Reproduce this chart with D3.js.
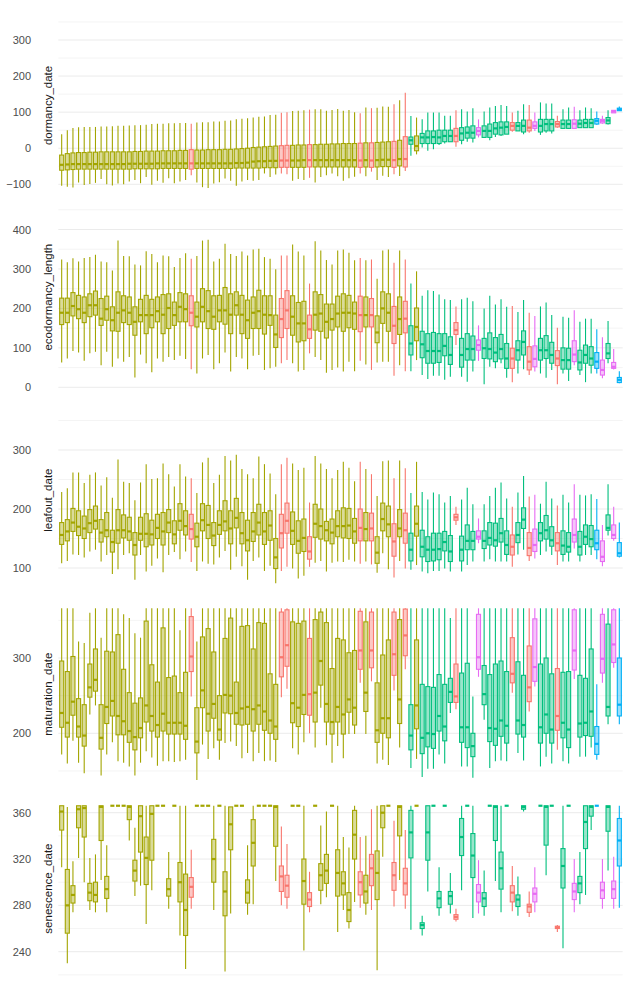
<!DOCTYPE html>
<html lang="en">
<head>
    <meta charset="UTF-8">
    <title>Phenology box plots</title>
    <script src="https://d3js.org/d3.v7.min.js"></script>
    <style>
        body { margin: 0; background: #fff; }
        .tick text { font: 11px "Liberation Sans", Arial, sans-serif; fill: #4d4d4d; }
        .ytitle { font: 11.5px "Liberation Sans", Arial, sans-serif; fill: #1a1a1a; }
        .grid-major { stroke: #ebebeb; stroke-width: 1; }
        .grid-minor { stroke: #ebebeb; stroke-width: 0.55; }
    </style>
</head>
<body>
    <div id="chart"></div>

    <script>
        // sites along x (sorted by dormancy median in the source), 100 of them
        const sites = d3.range(1, 101).map(i => "site" + i);

        // colour group of each site
        const groups = ("OOOOOOOOOOOOOOOOOOOOOOO" + "R" + "OOOOOOOOOOOOOOO" + "RR" + "OOO" + "R" +
            "OOOOOOOO" + "R" + "O" + "R" + "OOO" + "R" + "O" + "R" + "G" + "O" + "GGGGGG" + "R" +
            "GGG" + "M" + "GGGGG" + "R" + "GG" + "R" + "M" + "GGG" + "R" + "GG" + "M" + "GGG" +
            "B" + "M" + "G" + "M" + "B").split("");

        // dormancy_date
        const dormLo = [-104,-107,-109,-95,-102,-99,-96,-85,-100,-103,-98,-100,-92,-88,-97,-80,-101,-90,-96,-83,-97,-92,-88,
            -75,-95,-108,-110,-98,-94,-84,-90,-104,-92,-88,
            -90,-88,-70,-80,-73,-70,-72,-90,-85,-88,-82,-95,-80,-75,-70,-78,-90,-83,-79,-70,-78,-65,-88,-76,-80,-72,-77,-63,
            -21,-17,2,-7,-3,9,13,18,4,11,18,16,30,28,22,31,34,39,46,48,39,43,48,37,43,41,57,55,53,55,57,57,57,65,68,66,98,104];
        const dormQ1 = [-61,-60,-59,-58,-58,-58,-58,-58,-58,-58,-58,-58,-58,-57,-57,-57,-57,-57,-56,-56,-56,-56,-56,
            -58,-56,-56,-56,-56,-56,-56,-56,-55,-55,-55,
            -55,-55,-54,-54,-54,-53,-53,-53,-53,-53,-52,-52,-52,-52,-52,-52,-52,-52,-52,-53,-52,-53,-52,-51,-51,-53,-49,-52,
            11,-7,13,13,13,13,18,18,18,22,28,28,37,30,30,39,37,39,50,48,45,48,55,45,48,48,59,55,55,55,57,57,57,67,70,68,98,104];
        const dormMed = [-46,-45,-44,-44,-44,-44,-44,-44,-44,-44,-44,-44,-43,-43,-43,-43,-43,-42,-42,-42,-42,-42,-42,
            -42,-42,-42,-42,-42,-42,-42,-42,-41,-41,-40,
            -37,-36,-36,-35,-35,-34,-34,-34,-34,-33,-33,-33,-33,-33,-33,-33,-33,-33,-33,-34,-33,-34,-33,-32,-32,-33,-30,-30,
            22,6,30,30,31,30,34,34,34,41,43,43,48,48,48,55,57,59,62,62,62,57,62,62,67,67,67,67,67,68,68,70,70,76,76,77,102,107];
        const dormQ3 = [-19,-15,-13,-12,-12,-11,-11,-10,-10,-10,-10,-10,-10,-9,-9,-8,-8,-8,-7,-7,-7,-6,-6,
            -4,-5,-5,-4,-4,-4,-3,-3,-2,-1,0,
            2,3,4,5,6,7,8,8,9,9,10,10,11,11,12,12,13,13,13,14,15,15,16,17,18,19,22,32,
            31,34,41,48,48,50,50,50,55,57,59,62,57,62,67,71,73,73,71,71,78,78,73,80,80,80,74,78,78,79,78,80,80,82,80,85,105,111];
        const dormHi = [39,50,56,58,59,59,59,60,60,61,62,62,63,64,64,65,67,68,68,69,69,70,70,
            68,71,72,72,74,74,76,77,80,82,83,
            85,87,88,92,93,98,100,103,104,105,107,108,108,104,106,109,104,106,100,97,113,111,112,116,115,122,133,154,
            89,85,80,99,99,99,90,90,105,108,102,111,80,102,113,117,120,117,99,104,122,120,99,127,124,124,90,108,113,115,105,113,111,102,90,105,105,116];

        // ecodormancy_length
        const ecoLo = [63,73,92,88,67,86,90,56,90,52, 73,65,77,25,83,61,38,73,65,77, 69,80,72,46,35,73,82,46,61,88,
            40,77,73,46,80,82,44,48,52,61, 69,61,40,44,86,77,69,37,44,50, 40,65,41,67,58,44,63,65,65,29,
            56,41,41,69,31,21,29,29,19,27, 107,27,14,40,67,8,52,48,61,24, 13,35,46,31,40,35,24,44,8,35,
            16,56,31,13,35,35,23,61,45,10];
        const ecoQ1 = [159,164,181,174,164,179,183,157,170,143, 142,164,159,132,166,136,151,166,136,149,
            157,166,166,156,153,166,149,147,166,160, 136,183,136,124,149,149,135,157,101,126,
            149,132,115,118,124,145,142,125,145,153, 142,151,147,141,153,153,113,162,142,111,
            134,138,82,118,75,61,61,63,80,58, 134,51,69,69,94,73,72,65,72,48, 48,69,82,44,52,69,73,61,55,46,
            46,65,44,61,56,48,31,73,48,12];
        const ecoMed = [189,189,206,198,189,208,208,174,198,170, 189,195,189,166,183,183,183,193,184,201,
            183,204,198,189,179,204,193,179,195,195, 184,208,184,170,189,193,184,183,134,173,
            195,179,162,162,147,184,187,166,173,187, 189,189,187,183,183,183,139,200,189,156,
            173,174,111,153,109,92,92,92,105,82, 145,82,97,97,107,99,97,88,97,73, 73,94,115,65,72,94,94,82,73,69,
            69,83,63,82,73,65,44,86,52,19];
        const ecoQ3 = [226,226,240,233,229,237,244,225,231,204, 242,232,229,204,223,233,223,229,235,237,
            216,240,237,232,216,250,245,232,233,253, 237,242,233,221,229,246,232,232,183,225,
            245,232,215,218,183,242,235,211,211,231, 237,233,216,231,229,225,181,242,237,205,
            229,218,156,201,142,136,139,136,136,128, 164,124,136,130,120,124,138,126,134,111,
            99,118,143,103,105,124,131,114,93,100, 99,118,94,107,103,88,69,111,63,25];
        const ecoHi = [324,317,327,319,328,330,336,319,317,296, 372,333,332,311,309,345,338,317,334,332,
            305,328,340,326,333,372,374,319,326,364, 338,333,344,334,349,351,330,326,299,334,
            334,362,344,334,263,370,347,323,311,347, 349,341,322,328,322,324,275,347,349,316,
            347,324,263,294,232,246,244,235,223,221, 205,223,227,218,157,200,232,210,223,204,
            206,191,221,189,181,205,215,183,151,179, 176,195,166,174,174,147,127,168,97,41];

        // leafout_date
        const leafLo = [108,112,123,122,118,128,131,111,122,90, 98,122,125,80,122,94,104,116,93,122,
            127,115,128,110,95,111,107,106,118,129, 97,119,103,80,112,118,95,104,74,95,
            102,99,82,87,102,109,112,94,109,111, 110,114,111,107,111,106,92,125,98,84,
            112,99,97,105,94,91,95,95,99,94, 173,94,105,111,142,111,115,111,111,111,
            102,123,131,112,116,122,128,122,105,111, 111,133,111,122,122,115,103,155,146,118];
        const leafQ1 = [140,146,162,155,150,160,166,144,153,127, 142,151,147,122,147,136,139,150,139,160,
            141,164,156,149,136,163,150,138,157,163, 141,168,141,129,145,156,140,147,99,134,
            159,140,125,128,115,152,149,146,141,153, 151,150,142,146,146,146,108,163,153,120,
            153,142,112,154,119,111,112,114,129,111, 181,112,131,131,149,133,139,137,144,123,
            122,143,167,121,128,146,149,137,129,123, 127,144,122,140,136,131,111,164,150,120];
        const leafMed = [156,162,177,170,167,176,180,160,164,144, 164,164,162,139,158,158,157,168,162,177,
            157,180,171,166,153,181,173,155,173,179, 167,185,159,147,162,177,162,172,118,159,
            180,163,146,151,128,175,171,164,160,171, 171,172,162,168,166,167,126,183,174,145,
            167,164,131,175,136,131,131,132,144,128, 186,131,146,146,153,146,151,147,159,139,
            136,156,182,134,139,159,164,147,142,138, 136,156,136,153,149,142,119,168,156,125];
        const leafQ3 = [177,182,201,197,188,199,205,182,194,164, 199,190,186,160,186,192,181,191,194,199,
            180,209,197,191,176,209,206,177,197,214, 197,218,194,181,194,208,194,197,150,191,
            210,195,180,183,153,208,200,179,183,197, 202,201,184,200,194,193,153,210,205,175,
            199,193,159,205,164,153,159,159,162,155, 191,154,173,162,163,163,177,176,184,163,
            156,177,202,160,166,177,189,170,160,163, 160,183,162,173,172,164,146,190,173,143];
        const leafHi = [229,235,262,262,244,258,262,240,254,219, 284,246,244,215,245,276,251,252,277,259,
            238,276,255,252,227,279,287,244,258,290, 282,292,268,259,252,289,276,260,225,276,
            287,277,266,270,211,290,277,268,252,266, 280,270,247,280,268,259,222,281,282,252,
            282,269,227,280,229,216,228,225,211,222, 204,216,236,208,184,208,222,236,245,218,
            204,228,256,221,224,209,246,218,206,224, 211,242,224,223,225,217,173,242,204,177];

        // maturation_date
        const matLo = [172,160,190,161,147,225,237,144,172,188, 163,161,156,144,161,176,168,157,163,163,
            162,163,165,249,138,185,166,180,165,187, 189,183,167,174,163,174,163,164,162,248,
            259,180,172,188,200,181,234,184,161,183, 167,199,199,267,199,269,160,165,158,257,
            181,285,154,166,142,153,153,172,160,227, 232,156,156,141,275,218,154,163,164,163,
            254,174,164,229,262,156,169,160,178,163, 160,272,169,169,181,165,267,212,287,212];
        const matQ1 = [208,195,224,195,183,248,256,179,213,223, 198,198,188,178,194,215,203,195,203,199,
            199,199,192,282,174,234,203,220,191,227, 226,212,211,212,203,212,204,200,192,275,
            289,214,209,225,224,215,264,215,199,215, 199,228,211,285,229,287,188,200,194,277,
            213,303,178,206,173,182,180,203,190,241, 241,188,181,169,285,238,189,184,196,187,
            267,199,195,242,269,187,200,187,204,194, 181,284,195,197,196,172,280,223,294,223];
        const matMed = [227,214,242,209,197,261,271,194,235,243, 223,216,203,195,207,237,223,211,226,214,
            214,214,210,302,189,257,226,239,205,251, 250,227,233,235,232,237,229,217,209,301,
            317,240,234,251,252,254,296,239,215,235, 225,245,234,310,254,310,204,220,220,305,
            245,330,197,237,194,200,199,223,209,255, 249,208,208,183,301,252,207,206,217,210,
            279,217,211,261,288,208,225,205,223,214, 205,310,213,214,229,186,299,235,318,238];
        const matQ3 = [296,282,302,246,238,292,312,238,309,308, 331,285,254,240,247,349,291,268,340,274,
            276,254,281,355,234,328,339,308,250,326, 353,268,342,343,312,347,346,279,265,361,
            364,348,346,349,326,351,361,347,286,326, 324,307,310,362,348,361,267,304,324,361,
            351,365,238,324,265,262,261,278,265,273, 292,280,293,200,358,290,278,292,296,282,
            327,295,277,316,352,292,300,279,286,281, 282,364,277,273,312,209,358,345,364,300];
        const matHi = [366,366,366,322,320,360,366,327,366,366, 366,358,353,333,327,366,366,366,366,366,
            366,337,366,366,322,366,366,366,366,366, 366,366,366,366,366,366,366,366,366,366,
            366,366,366,366,366,366,366,366,366,366, 366,366,366,366,366,366,366,366,366,366,
            366,366,366,366,366,366,366,366,366,353, 366,366,366,249,366,366,366,366,366,366,
            366,366,366,366,366,366,366,366,366,366, 366,366,366,366,366,265,366,366,366,366];

        // senescence_date
        const senLo = [313,230,274,321,300,276,274,302,274,366, 366,366,336,288,297,264,293,366,366,277,
            366,254,225,277,366,366,366,276,366,223, 273,366,366,272,281,366,366,366,301,280,
            277,366,366,241,274,366,281,287,366,257, 276,260,283,278,272,276,224,322,366,279,
            302,277,259,366,254,292,366,271,366,273, 266,293,366,269,273,271,366,301,274,366,
            275,271,361,270,274,366,306,366,257,243, 366,274,281,289,345,366,277,310,277,278];
        const senQ1 = [345,256,282,347,339,284,283,336,286,366, 366,366,354,301,326,298,319,366,366,288,
            366,283,254,287,366,366,366,300,366,271, 328,366,366,282,314,366,366,366,331,292,
            287,366,366,281,279,366,293,299,366,288, 289,266,320,289,282,297,285,347,366,293,
            340,289,321,366,260,319,366,278,366,281, 268,323,366,304,283,279,366,336,294,366,
            283,279,363,274,283,366,332,366,260,295, 366,285,291,329,357,366,286,344,286,314];
        const senMed = [361,280,289,363,364,291,289,365,294,366, 366,366,365,310,357,321,359,366,366,294,
            366,300,276,296,366,366,366,320,366,292, 350,366,366,291,334,366,366,366,365,305,
            297,366,366,301,285,366,306,310,366,308, 299,276,341,300,292,312,308,360,366,306,
            365,299,343,366,263,343,366,286,366,288, 270,339,366,323,291,286,366,365,312,366,
            291,285,365,279,290,366,365,366,261,314, 366,292,299,352,365,366,293,365,294,336];
        const senQ3 = [366,311,297,366,366,299,300,366,305,366, 366,366,366,319,366,339,366,366,366,303,
            366,317,307,304,366,366,366,337,366,309, 365,366,366,302,354,366,366,366,366,314,
            306,366,366,320,291,366,316,324,366,328, 309,291,362,309,306,324,327,366,366,317,
            366,312,362,366,265,366,366,292,366,292, 272,355,366,342,298,291,366,366,326,366,
            297,289,366,281,295,366,366,366,262,329, 366,299,305,366,366,366,300,366,301,355];
        const senHi = [366,365,318,366,366,321,324,366,332,366, 366,366,366,347,366,366,366,366,366,326,
            366,366,366,328,366,366,366,366,366,366, 365,366,366,332,366,366,366,366,366,348,
            333,366,366,366,309,366,349,361,366,366, 339,330,366,339,340,363,366,366,366,353,
            366,345,366,366,271,366,366,313,366,308, 277,366,366,366,319,310,366,366,366,366,
            314,305,366,292,313,366,366,366,263,366, 366,320,326,366,366,366,320,366,322,366];

        const color = d3.scaleOrdinal()
            .domain(["R", "O", "G", "B", "M"])
            .range(["#F8766D", "#A3A500", "#00BF7D", "#00B0F6", "#E76BF3"]);

        // panel layout: two reference ticks pinned to pixel rows, plus the visible extent
        const panels = [
            { title: "dormancy_date", lo: dormLo, q1: dormQ1, med: dormMed, q3: dormQ3, hi: dormHi,
              ref: [-100, 300], px: [184.3, 40], ext: [-125, 362],
              major: [-100, 0, 100, 200, 300], minor: [-50, 50, 150, 250, 350] },
            { title: "ecodormancy_length", lo: ecoLo, q1: ecoQ1, med: ecoMed, q3: ecoQ3, hi: ecoHi,
              ref: [0, 400], px: [387.3, 229.5], ext: [-8, 465],
              major: [0, 100, 200, 300, 400], minor: [50, 150, 250, 350, 450] },
            { title: "leafout_date", lo: leafLo, q1: leafQ1, med: leafMed, q3: leafQ3, hi: leafHi,
              ref: [100, 300], px: [568, 450], ext: [70, 360],
              major: [100, 200, 300], minor: [150, 250, 350] },
            { title: "maturation_date", lo: matLo, q1: matQ1, med: matMed, q3: matQ3, hi: matHi,
              ref: [200, 300], px: [733.3, 658], ext: [127, 377],
              major: [200, 300], minor: [150, 250, 350] },
            { title: "senescence_date", lo: senLo, q1: senQ1, med: senMed, q3: senQ3, hi: senHi,
              ref: [240, 360], px: [951.7, 812.7], ext: [216, 373],
              major: [240, 280, 320, 360], minor: [220, 260, 300, 340] }
        ];

        const width = 630, height = 998;
        const left = 58.3, right = 622.7;

        const x = d3.scalePoint().domain(sites).range([left, right]).padding(0.6);
        const boxW = x.step() * 0.72;

        const svg = d3.select("#chart")
            .append("svg")
            .attr("width", width)
            .attr("height", height);

        panels.forEach(p => {
            const y = d3.scaleLinear().domain(p.ref).range(p.px);
            const g = svg.append("g");

            g.selectAll(".grid-minor")
                .data(p.minor)
                .enter().append("line")
                .attr("class", "grid-minor")
                .attr("x1", left).attr("x2", right)
                .attr("y1", d => y(d)).attr("y2", d => y(d));

            g.selectAll(".grid-major")
                .data(p.major)
                .enter().append("line")
                .attr("class", "grid-major")
                .attr("x1", left).attr("x2", right)
                .attr("y1", d => y(d)).attr("y2", d => y(d));

            const ax = g.append("g")
                .attr("transform", "translate(34,0)")
                .call(d3.axisLeft(y).tickValues(p.major).tickSize(0).tickPadding(3));
            ax.select(".domain").remove();

            g.append("text")
                .attr("class", "ytitle")
                .attr("transform", `translate(52,${(y(p.ext[0]) + y(p.ext[1])) / 2}) rotate(-90)`)
                .attr("text-anchor", "middle")
                .text(p.title);

            const rows = sites.map((s, i) => ({
                site: s, grp: groups[i],
                lo: p.lo[i], q1: p.q1[i], med: p.med[i], q3: p.q3[i], hi: p.hi[i]
            }));

            const box = g.selectAll(".box")
                .data(rows)
                .enter().append("g")
                .attr("class", "box");

            box.append("line")
                .attr("x1", d => x(d.site)).attr("x2", d => x(d.site))
                .attr("y1", d => y(d.hi)).attr("y2", d => y(d.q3))
                .attr("stroke", d => color(d.grp))
                .attr("stroke-width", 1.1);

            box.append("line")
                .attr("x1", d => x(d.site)).attr("x2", d => x(d.site))
                .attr("y1", d => y(d.q1)).attr("y2", d => y(d.lo))
                .attr("stroke", d => color(d.grp))
                .attr("stroke-width", 1.1);

            box.append("rect")
                .attr("x", d => x(d.site) - boxW / 2)
                .attr("width", boxW)
                .attr("y", d => y(d.q3))
                .attr("height", d => y(d.q1) - y(d.q3))
                .attr("fill", d => color(d.grp))
                .attr("fill-opacity", 0.4)
                .attr("stroke", d => color(d.grp))
                .attr("stroke-width", 1.1);

            box.append("line")
                .attr("x1", d => x(d.site) - boxW / 2).attr("x2", d => x(d.site) + boxW / 2)
                .attr("y1", d => y(d.med)).attr("y2", d => y(d.med))
                .attr("stroke", d => color(d.grp))
                .attr("stroke-width", 2.2);
        });
    </script>
</body>
</html>
